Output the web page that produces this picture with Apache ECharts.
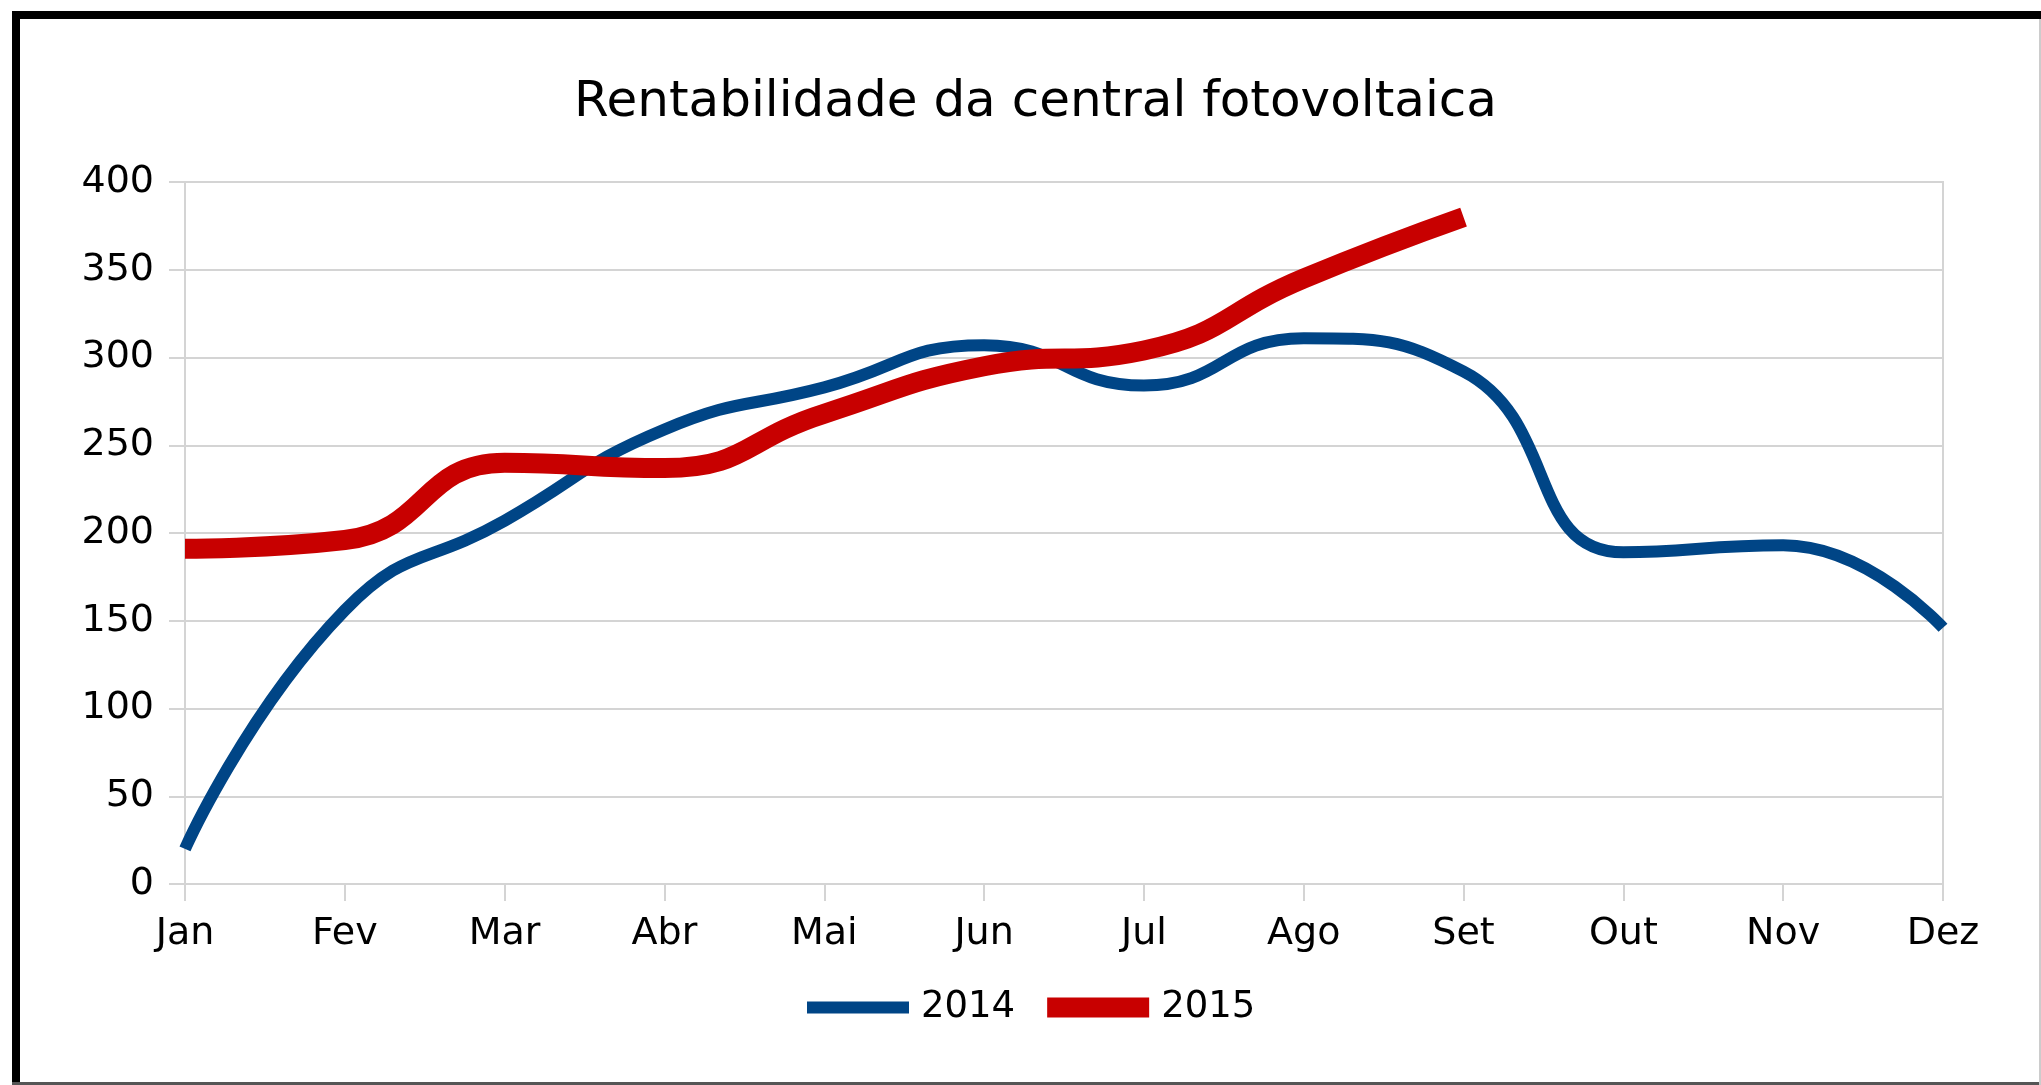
<!DOCTYPE html>
<html>
<head>
    <meta charset="UTF-8">
    <title>Rentabilidade da central fotovoltaica</title>
    <script src="https://cdn.jsdelivr.net/npm/echarts@6/dist/echarts.min.js"></script>
    <style>
        html, body { margin: 0; padding: 0; background: #fff; }
        #chart { width: 2041px; height: 1085px; }
    </style>
</head>
<body>
    <div id="chart"></div>

<script type="text/javascript">
    // dados
    var meses = ['Jan', 'Fev', 'Mar', 'Abr', 'Mai', 'Jun', 'Jul', 'Ago', 'Set', 'Out', 'Nov', 'Dez'];
    var valores2014 = [20, 156, 207, 259, 283, 307, 284, 311, 292, 189, 193, 146];
    var valores2015 = [191, 196, 240, 237, 268, 295, 304, 345, 380];
    var yTicks = [0, 50, 100, 150, 200, 250, 300, 350, 400];

    var fonte = 'DejaVu Sans';
    var corTexto = '#000000';
    var corGrelha = '#d4d4d4';

    var myChart = echarts.init(document.getElementById('chart'));

    var option = {
        backgroundColor: '#ffffff',
        animation: false,
        title: {
            text: 'Rentabilidade da central fotovoltaica',
            left: 569,
            top: 73,
            textStyle: { fontFamily: fonte, fontSize: 50, fontWeight: 'normal', color: corTexto }
        },
        legend: {
            left: 802,
            top: 984,
            itemWidth: 102,
            itemHeight: 26,
            itemGap: 32,
            textStyle: { fontFamily: fonte, fontSize: 37, color: corTexto, padding: [0, 0, 0, 7] },
            data: [
                { name: '2014', icon: 'path://M0 0H102V12H0Z' },
                { name: '2015', icon: 'path://M0 0H102V20H0Z' }
            ]
        },
        grid: {
            left: 185,
            right: 98,
            top: 182,
            bottom: 201,
            show: true,
            borderColor: corGrelha,
            borderWidth: 2
        },
        xAxis: {
            type: 'category',
            boundaryGap: false,
            data: meses,
            axisLine: { lineStyle: { color: corGrelha, width: 2 } },
            axisTick: { show: true, length: 17, lineStyle: { color: corGrelha, width: 2 } },
            axisLabel: { fontFamily: fonte, fontSize: 38, color: corTexto, margin: 31 },
            splitLine: { show: false }
        },
        yAxis: {
            type: 'value',
            min: yTicks[0],
            max: yTicks[yTicks.length - 1],
            interval: 50,
            axisLine: { show: true, lineStyle: { color: corGrelha, width: 2 } },
            axisTick: { show: true, length: 16, lineStyle: { color: corGrelha, width: 2 } },
            axisLabel: { fontFamily: fonte, fontSize: 38, color: corTexto, margin: 31 },
            splitLine: { show: true, lineStyle: { color: corGrelha, width: 2 } }
        },
        series: [
            {
                name: '2014',
                type: 'line',
                smooth: 0.5,
                symbol: 'none',
                data: valores2014,
                color: '#004586',
                lineStyle: { width: 12, color: '#004586', cap: 'butt' }
            },
            {
                name: '2015',
                type: 'line',
                smooth: 0.5,
                symbol: 'none',
                data: valores2015,
                color: '#c80000',
                lineStyle: { width: 20, color: '#c80000', cap: 'butt' }
            }
        ],
        graphic: [
            // moldura exterior
            { type: 'rect', shape: { x: 12, y: 11, width: 2029, height: 8 }, style: { fill: '#000' } },
            { type: 'rect', shape: { x: 12, y: 11, width: 8, height: 1074 }, style: { fill: '#000' } },
            { type: 'rect', shape: { x: 12, y: 1082, width: 2029, height: 3 }, style: { fill: '#555' } },
            { type: 'rect', shape: { x: 2039, y: 19, width: 2, height: 1066 }, style: { fill: '#ccc' } }
        ]
    };

    myChart.setOption(option);
</script>
</body>
</html>
